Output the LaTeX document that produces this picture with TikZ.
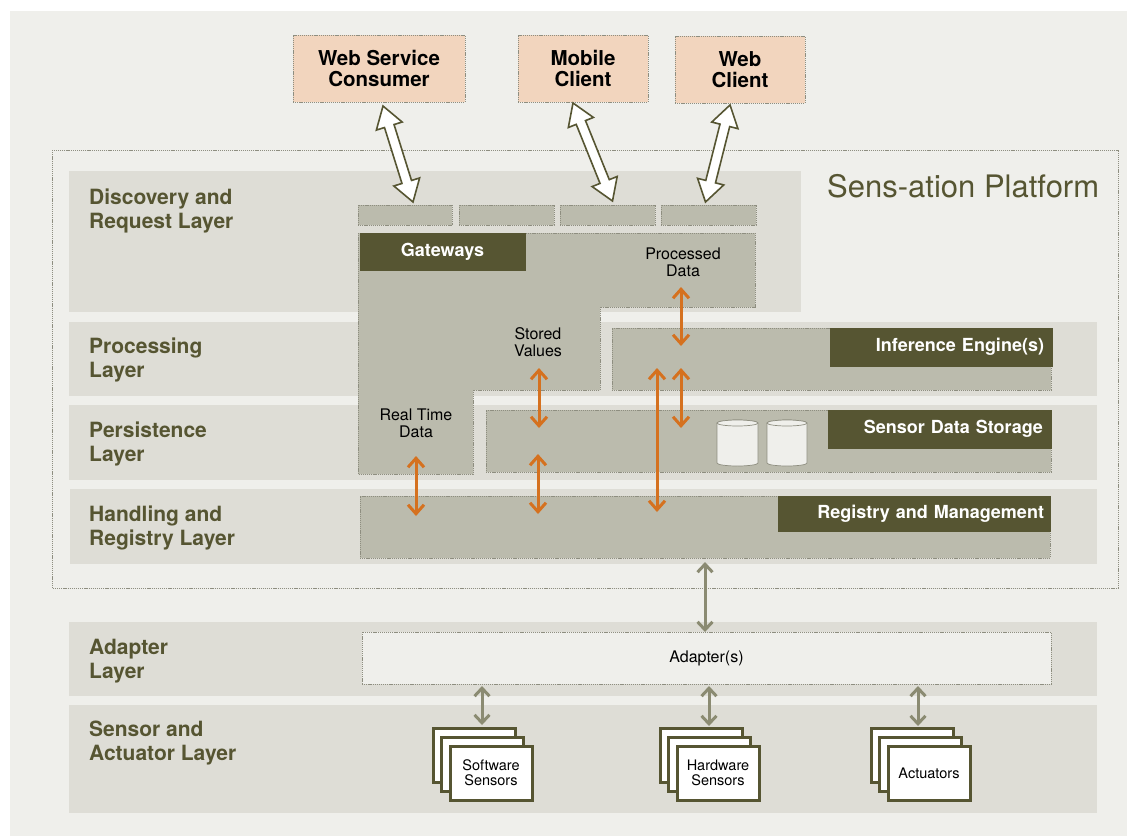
\documentclass[tikz,border=0pt]{standalone}
\usepackage{fontspec}
\setmainfont{TeX Gyre Heros}
\usetikzlibrary{calc,arrows.meta}
\definecolor{panel}{HTML}{EFEFEB}
\definecolor{bandc}{HTML}{DEDDD6}
\definecolor{innerc}{HTML}{BBBBAD}
\definecolor{olive}{HTML}{565532}
\definecolor{peach}{HTML}{F2D5BE}
\definecolor{orng}{HTML}{D5711F}
\definecolor{garrow}{HTML}{8B8B72}
\definecolor{dashc}{HTML}{8E8E80}
\newcommand\mkbox[7][]{\node[rectn,#1,minimum width={(#5)-(#3)},minimum height={(#6)-(#4)}] (#2) at ({((#3)+(#5))/2},{((#4)+(#6))/2}) {#7};}
\newcommand\hollowarrow[2]{%
  \coordinate (hA) at (#1); \coordinate (hB) at (#2);
  \coordinate (hA1) at ($(hA)!21pt!(hB)$);
  \coordinate (hB1) at ($(hB)!21pt!(hA)$);
  \draw[hollow] (hA) -- ($(hA1)!13.5pt!90:(hB)$) -- ($(hA1)!5pt!90:(hB)$) -- ($(hB1)!5pt!-90:(hA)$) -- ($(hB1)!13.5pt!-90:(hA)$) -- (hB) -- ($(hB1)!13.5pt!90:(hA)$) -- ($(hB1)!5pt!90:(hA)$) -- ($(hA1)!5pt!-90:(hB)$) -- ($(hA1)!13.5pt!-90:(hB)$) -- cycle;}
\newcommand\sensorstack[4]{%
  \mkbox[sbox]{#1c}{#2-17}{#3-18}{#2+65}{#3+36}{}
  \mkbox[sbox]{#1b}{#2-8.5}{#3-9}{#2+73.5}{#3+45}{}
  \mkbox[sbox,font=\fontsize{14.5}{15}\selectfont,align=center]{#1}{#2}{#3}{#2+82}{#3+54}{#4}}
\begin{document}
\begin{tikzpicture}[x=1pt,y=-1pt,
  rectn/.style={inner sep=0pt,outer sep=0pt,anchor=center},
  layerband/.style={fill=bandc},
  dbox/.style={fill=innerc,draw=dashc,line width=0.6pt,dash pattern=on 1.2pt off 0.9pt},
  lbl/.style={fill=olive,draw=olive,line width=0.5pt,text=white,font=\bfseries\fontsize{18}{20}\selectfont},
  client/.style={fill=peach,draw=dashc,line width=0.6pt,dash pattern=on 1.2pt off 0.9pt,align=center,font=\bfseries\fontsize{20.5}{21}\selectfont},
  layertxt/.style={inner sep=0pt,anchor=base west,align=left,text=olive,font=\bfseries\fontsize{21}{24}\selectfont},
  smalltxt/.style={inner sep=0pt,anchor=base,align=center,font=\fontsize{16}{17}\selectfont},
  sbox/.style={fill=white,draw=olive,line width=3pt},
  hollow/.style={draw=olive,fill=white,line width=1.6pt,line join=miter},
  oarr/.style={draw=orng,line width=3pt,{Straight Barb[length=9pt,width=16pt]}-{Straight Barb[length=9pt,width=16pt]}},
  garr/.style={draw=garrow,line width=3pt,{Straight Barb[length=8pt,width=15pt]}-{Straight Barb[length=8pt,width=15pt]}},
  cyl/.style={fill=panel,draw=dashc,line width=0.7pt}]
\useasboundingbox (0,0) rectangle (1127,836);
\fill[white] (0,0) rectangle (1127,836);
\fill[panel] (10,11) rectangle (1127,836);
% platform outline
\draw[dashc,line width=0.7pt,dash pattern=on 1.2pt off 0.9pt] (52,150) rectangle (1118,588);
% layer bands
\fill[layerband] (69,171) rectangle (801,312);
\fill[layerband] (69,322) rectangle (1097,396);
\fill[layerband] (69,405) rectangle (1097,480);
\fill[layerband] (70,489) rectangle (1097,564);
\fill[layerband] (69,622) rectangle (1097,696);
\fill[layerband] (69,705) rectangle (1097,813);
% layer labels (base = last line)
\node[layertxt] (ldisc) at (89,228) {Discovery and\\Request Layer};
\node[layertxt] (lproc) at (89,377) {Processing\\Layer};
\node[layertxt] (lpers) at (89,461) {Persistence\\Layer};
\node[layertxt] (lhand) at (89,545) {Handling and\\Registry Layer};
\node[layertxt] (ladap) at (89,678) {Adapter\\Layer};
\node[layertxt] (lsens) at (89,760) {Sensor and\\Actuator Layer};
\node[inner sep=0pt,anchor=base west,text=olive,font=\fontsize{31}{34}\selectfont] (plat) at (827,197) {Sens-ation Platform};
% client boxes
\mkbox[client]{wsc}{293}{35}{465}{102}{Web Service\\Consumer}
\mkbox[client]{mob}{518}{35}{648}{102}{Mobile\\Client}
\mkbox[client]{web}{675}{36}{805}{103}{Web\\Client}
% gateway small boxes
\mkbox[dbox]{g1}{358}{205}{452}{225}{}
\mkbox[dbox]{g2}{459}{205}{554}{225}{}
\mkbox[dbox]{g3}{560}{205}{655}{225}{}
\mkbox[dbox]{g4}{661}{205}{756}{225}{}
% gateway region
\draw[dbox] (358,233) -- (755,233) -- (755,307) -- (600,307) -- (600,390) -- (473,390) -- (473,474) -- (358,474) -- cycle;
\mkbox[lbl]{gw}{360}{233}{525}{270}{Gateways}
% inner boxes
\mkbox[dbox]{inf}{612}{328}{1051}{390}{}
\mkbox[dbox]{sds}{486}{410}{1051}{472}{}
\mkbox[dbox]{reg}{360}{496}{1050}{558}{}
\mkbox[dbox,fill=panel,font=\fontsize{16}{17}\selectfont]{adp}{362}{632}{1051}{684}{Adapter(s)}
% label boxes
\mkbox[lbl,text width=206pt,align=right]{infl}{830}{328}{1052}{366}{Inference Engine(s)}
\mkbox[lbl,text width=207pt,align=right]{sdsl}{828}{410}{1051}{448}{Sensor Data Storage}
\mkbox[lbl,text width=260pt,align=right]{regl}{778}{496}{1050}{531}{Registry and Management}
% cylinders
\draw[cyl] (717,423) -- (717,463) arc[start angle=180,end angle=360,x radius=20.5pt,y radius=3pt] -- (758,423) arc[start angle=0,end angle=180,x radius=20.5pt,y radius=3pt] -- cycle;
\draw[cyl] (737.5,423) ellipse[x radius=20.5pt,y radius=3pt];
\draw[cyl] (767,423) -- (767,463) arc[start angle=180,end angle=360,x radius=20pt,y radius=3pt] -- (807,423) arc[start angle=0,end angle=180,x radius=20pt,y radius=3pt] -- cycle;
\draw[cyl] (787,423) ellipse[x radius=20pt,y radius=3pt];
% small texts (base = last line)
\node[smalltxt] (pd) at (683,276) {Processed\\Data};
\node[smalltxt] (sv) at (538,356) {Stored\\Values};
\node[smalltxt] (rt) at (416,437) {Real Time\\Data};
% sensor stacks
\sensorstack{sws}{450}{746}{Software\\Sensors}
\sensorstack{hws}{677}{746}{Hardware\\Sensors}
\sensorstack{act}{888}{746}{Actuators}
% hollow arrows
\hollowarrow{$(wsc.south)+(4,4)$}{$(g1.north)+(8,-3)$}
\hollowarrow{$(mob.south)+(-10,1)$}{$(g3.north)+(5,-4)$}
\hollowarrow{$(web.south)+(-10,2)$}{$(g4.north)+(-3,-3)$}
% orange arrows
\coordinate (o1t) at (681,287); \coordinate (o1b) at (681,346);
\coordinate (o2t) at (681,368); \coordinate (o2b) at (681,428);
\coordinate (o3t) at (416,456); \coordinate (o3b) at (416,516);
\coordinate (o4t) at (539,368); \coordinate (o4b) at (539,428);
\coordinate (o5t) at (538,454); \coordinate (o5b) at (538,514);
\coordinate (o6t) at (657,368); \coordinate (o6b) at (657,512);
\draw[oarr] (o1t) -- (o1b);
\draw[oarr] (o2t) -- (o2b);
\draw[oarr] (o3t) -- (o3b);
\draw[oarr] (o4t) -- (o4b);
\draw[oarr] (o5t) -- (o5b);
\draw[oarr] (o6t) -- (o6b);
% gray arrows
\draw[garr] ($(reg.south west)+(345,4)$) -- ($(adp.north west)+(343,0)$);
\draw[garr] ($(adp.south west)+(120,2)$) -- ($(swsc.north)+(8,-3)$);
\draw[garr] ($(adp.south west)+(347,2)$) -- ($(hwsc.north)+(8,-2)$);
\draw[garr] ($(adp.south west)+(556,2)$) -- ($(actc.north)+(6,-2)$);
\end{tikzpicture}
\end{document}
